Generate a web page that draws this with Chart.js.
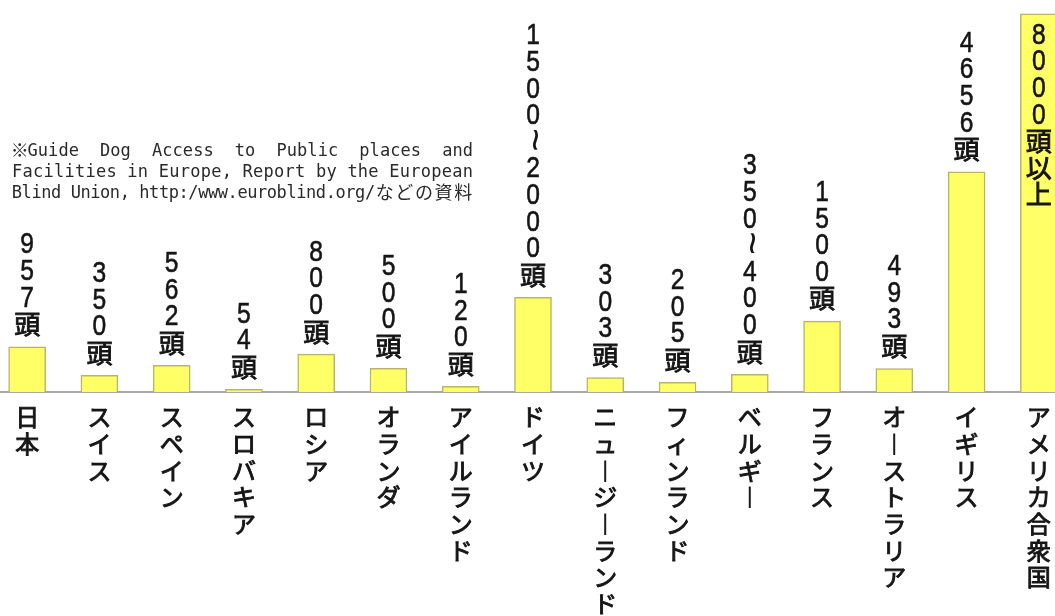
<!DOCTYPE html>
<html><head><meta charset="utf-8">
<script src="https://cdn.jsdelivr.net/npm/chart.js@4/dist/chart.umd.min.js"></script>
<style>
html,body{margin:0;padding:0;background:#fff;overflow:hidden;width:1055px;height:616px}
#wrap{position:absolute;left:-9px;top:0;width:1084px;height:616px}
</style></head><body>
<div id="wrap"><canvas id="c" width="1084" height="616"></canvas></div>
<script>
// ---- data ----
const categories = ["日本","スイス","スペイン","スロバキア","ロシア","オランダ","アイルランド","ドイツ","ニュージーランド","フィンランド","ベルギー","フランス","オーストラリア","イギリス","アメリカ合衆国"];
const dogCounts = [957, 350, 562, 54, 800, 500, 120, 2000, 303, 205, 375, 1500, 493, 4656, 8000];
const valueLabels = ["957頭","350頭","562頭","54頭","800頭","500頭","120頭","1500~2000頭","303頭","205頭","350~400頭","1500頭","493頭","4656頭","8000頭以上"];
const sourceNoteLines = [
  "※Guide Dog Access to Public places and",
  "Facilities in Europe, Report by the European",
  "Blind Union, http:/www.euroblind.org/などの資料"
];

const SHIFT = 9; // canvas is shifted left by this many px
const PITCH = 26.6;
const INK = '#151515';

function drawVChar(ctx, ch, x, boxTop){
  ctx.save();
  ctx.fillStyle = INK;
  ctx.strokeStyle = INK;
  ctx.textAlign = 'center';
  ctx.textBaseline = 'alphabetic';
  if (/[0-9]/.test(ch)) {
    ctx.font = '30px "Liberation Sans"';
    ctx.translate(x, boxTop + 22);
    ctx.scale(0.82, 1);
    ctx.lineWidth = 0.6;
    ctx.fillText(ch, 0, 0);
    ctx.strokeText(ch, 0, 0);
  } else if (ch === '~') {
    ctx.font = '40px "Liberation Sans"';
    ctx.translate(x, boxTop + 11);
    ctx.rotate(Math.PI / 2);
    ctx.textBaseline = 'middle';
    ctx.fillText(ch, 0, 0);
  } else {
    ctx.font = '26px "Noto Sans CJK JP"';
    ctx.translate(x, boxTop + 23);
    ctx.lineWidth = 0.9;
    ctx.fillText(ch, 0, 0);
    ctx.strokeText(ch, 0, 0);
  }
  ctx.restore();
}

const valueLabelPlugin = {
  id: 'vLabels',
  afterDatasetsDraw(chart){
    const ctx = chart.ctx;
    const meta = chart.getDatasetMeta(0);
    meta.data.forEach((bar, i) => {
      const chars = Array.from(valueLabels[i]);
      let top = bar.y - 9 - chars.length * PITCH;
      if (top < 4) top = bar.y + 8;
      chars.forEach((ch, k) => drawVChar(ctx, ch, bar.x, top + k * PITCH));
    });
  }
};

const notePlugin = {
  id: 'note',
  afterDraw(chart){
    const ctx = chart.ctx;
    const left = 12 + SHIFT, right = 473 + SHIFT;
    const baselines = [156, 177, 198];
    sourceNoteLines.forEach((line, li) => {
      const chars = Array.from(line);
      const w = c => (c.charCodeAt(0) > 0x2E80 ? 2 : (c === '※' ? 1.5 : 1));
      let cells = 0, spaces = 0;
      chars.forEach(c => { cells += w(c); if (c === ' ') spaces++; });
      let cell, extra;
      if (li === 0) { cell = 10.3; extra = (right - left - cells * cell) / spaces; }
      else { cell = (right - left) / cells; extra = 0; }
      let x = left;
      ctx.save();
      ctx.fillStyle = '#2a2a2a';
      ctx.textBaseline = 'alphabetic';
      ctx.textAlign = 'center';
      chars.forEach(c => {
        const cw = w(c) * cell;
        if (c !== ' ') {
          ctx.font = (w(c) >= 1.5) ? '18px "Noto Sans CJK JP"' : '17px "DejaVu Sans Mono"';
          ctx.fillText(c, x + cw / 2, baselines[li] + (w(c) >= 1.5 ? 1 : 0));
        }
        x += cw + (c === ' ' ? extra : 0);
      });
      ctx.restore();
    });
  }
};

new Chart(document.getElementById('c'), {
  type: 'bar',
  data: {
    labels: categories,
    datasets: [{
      data: dogCounts,
      backgroundColor: '#ffff66',
      borderColor: '#b8b46a',
      borderWidth: 1.5,
      barThickness: 37
    }]
  },
  options: {
    responsive: false,
    animation: false,
    layout: { padding: 0 },
    plugins: { legend: { display: false }, tooltip: { enabled: false } },
    scales: {
      x: {
        grid: { display: false, drawTicks: false },
        border: { display: true, color: '#a8a8a8', width: 2 },
        ticks: {
          autoSkip: false, maxRotation: 0, minRotation: 0, padding: 12,
          color: INK,
          textStrokeColor: INK,
          textStrokeWidth: 0.9,
          font: { family: '"Noto Sans CJK JP"', size: 24, lineHeight: 1.11 },
          callback(v){ return Array.from(this.getLabelForValue(v)).map(c => c === 'ー' ? '︱' : c); }
        },
        afterFit(s){ s.height = 224; }
      },
      y: { display: false, min: 0, max: 8290 }
    }
  },
  plugins: [valueLabelPlugin, notePlugin]
});
</script></body></html>
